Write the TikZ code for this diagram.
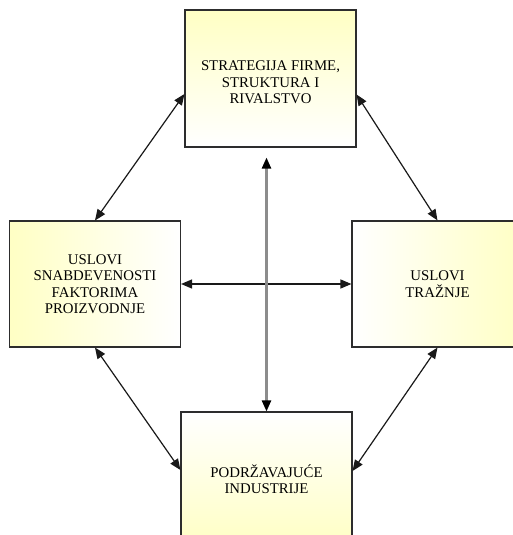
\documentclass[tikz,border=0pt]{standalone}
\usepackage{fontspec}
\setmainfont{Liberation Serif}
\usetikzlibrary{arrows.meta,calc}
\definecolor{paleyellow}{RGB}{255,255,196}
\definecolor{boxline}{RGB}{45,45,45}
\definecolor{axisgray}{RGB}{140,140,140}
\begin{document}
\begin{tikzpicture}[x=1pt,y=-1pt,
  factor/.style={draw=boxline,line width=1.1pt,align=center,inner sep=0pt,
    minimum width=171pt,text=black,
    font=\fontsize{14.8}{16.5}\selectfont},
  link/.style={line width=1.2pt,draw=black!90,
    {Triangle[length=11pt,width=9pt]}-{Triangle[length=11pt,width=9pt]}},
  axislink/.style={line width=2.3pt,draw=axisgray,
    {Triangle[length=11pt,width=9pt,color=black]}-{Triangle[length=11pt,width=9pt,color=black]}}]
  % page area
  \useasboundingbox (0,0) rectangle (513,535);
  \fill[white] (0,0) rectangle (513,535);
  \clip (0,0) rectangle (513,535);

  % the four factors
  \node[factor,minimum height=137pt,top color=paleyellow,bottom color=white]
    (strat) at (270.5,78.5) {\raisebox{-9pt}[0pt][0pt]{\begin{tabular}{@{}c@{}}STRATEGIJA FIRME,\\STRUKTURA I\\RIVALSTVO\end{tabular}}};
  \node[factor,minimum height=126pt,left color=paleyellow,right color=white]
    (supply) at (95,284) {USLOVI\\SNABDEVENOSTI\\FAKTORIMA\\PROIZVODNJE};
  \node[factor,minimum height=126pt,left color=white,right color=paleyellow]
    (demand) at (437.5,284) {USLOVI\\TRAŽNJE};
  \node[factor,minimum height=134pt,top color=white,bottom color=paleyellow]
    (support) at (266.5,479) {PODRŽAVAJUĆE\\INDUSTRIJE};

  % mutual influences
  \draw[link] ($(strat.west)+(0,15.5)$) -- (supply.north);
  \draw[link] ($(strat.east)+(0,16)$) -- (demand.north);
  \draw[link] (supply.east) -- (demand.west);
  \draw[link] (supply.south) -- ($(support.west)+(0,-9)$);
  \draw[link] (demand.south) -- ($(support.east)+(0,-8)$);
  \draw[axislink] (support.north) -- ($(support.north |- strat.south)+(0,10)$);
\end{tikzpicture}
\end{document}
